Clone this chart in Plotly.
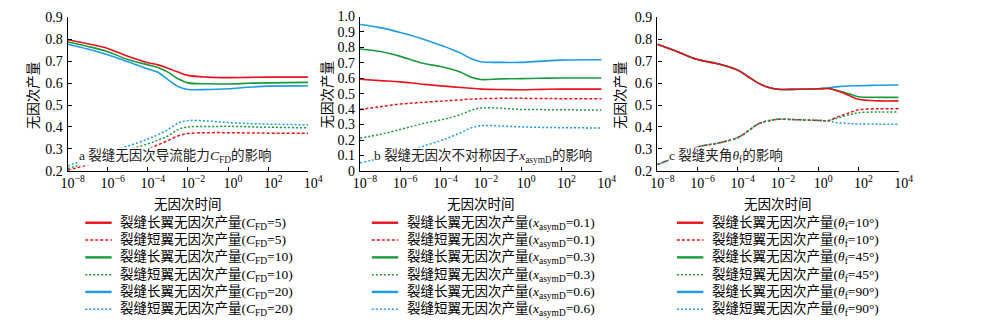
import plotly.graph_objects as go

# ---------------- data (log10 of dimensionless time) ----------------
X_A = [-8, -7, -6, -5, -4, -3.5, -3, -2.5, -2, -1, 0, 1, 2, 4]
A_long_5 = [0.797, 0.779, 0.758, 0.722, 0.693, 0.683, 0.668, 0.650, 0.635, 0.627, 0.625, 0.626, 0.627, 0.627]
A_long_10 = [0.787, 0.767, 0.743, 0.707, 0.683, 0.671, 0.650, 0.620, 0.601, 0.597, 0.596, 0.599, 0.601, 0.603]
A_long_20 = [0.777, 0.755, 0.729, 0.697, 0.664, 0.649, 0.616, 0.584, 0.571, 0.571, 0.574, 0.581, 0.586, 0.587]
A_short_5 = [0.203, 0.227, 0.251, 0.277, 0.301, 0.318, 0.338, 0.359, 0.370, 0.374, 0.374, 0.373, 0.372, 0.372]
A_short_10 = [0.210, 0.238, 0.265, 0.295, 0.323, 0.340, 0.359, 0.388, 0.400, 0.402, 0.403, 0.401, 0.399, 0.396]
A_short_20 = [0.222, 0.255, 0.287, 0.313, 0.345, 0.365, 0.388, 0.417, 0.429, 0.427, 0.420, 0.416, 0.413, 0.410]

X_B = [-8, -7, -6, -5, -4, -3.5, -3, -2.5, -2, -1, 0, 1, 2, 4]
B_long_01 = [0.594, 0.585, 0.577, 0.563, 0.551, 0.546, 0.540, 0.535, 0.530, 0.527, 0.526, 0.528, 0.530, 0.530]
B_long_03 = [0.790, 0.773, 0.742, 0.701, 0.676, 0.660, 0.639, 0.608, 0.592, 0.596, 0.598, 0.600, 0.602, 0.602]
B_long_06 = [0.948, 0.928, 0.897, 0.860, 0.814, 0.790, 0.763, 0.728, 0.707, 0.703, 0.703, 0.711, 0.718, 0.720]
B_short_01 = [0.398, 0.416, 0.433, 0.443, 0.452, 0.456, 0.460, 0.465, 0.468, 0.470, 0.470, 0.469, 0.468, 0.468]
B_short_03 = [0.212, 0.237, 0.268, 0.303, 0.330, 0.345, 0.365, 0.392, 0.408, 0.406, 0.398, 0.397, 0.396, 0.394]
B_short_06 = [0.052, 0.082, 0.118, 0.155, 0.196, 0.220, 0.247, 0.278, 0.293, 0.291, 0.285, 0.282, 0.280, 0.278]

X_C = [-8, -7, -6, -5, -4, -3.5, -3, -2.5, -2, -1, 0, 0.5, 1, 1.5, 2, 3, 4]
C_long_10 = [0.777, 0.743, 0.707, 0.688, 0.659, 0.630, 0.601, 0.581, 0.572, 0.572, 0.574, 0.575, 0.563, 0.545, 0.526, 0.519, 0.519]
C_long_45 = [0.777, 0.743, 0.707, 0.688, 0.659, 0.630, 0.601, 0.581, 0.572, 0.572, 0.574, 0.575, 0.565, 0.552, 0.538, 0.535, 0.535]
C_long_90 = [0.777, 0.743, 0.707, 0.688, 0.659, 0.630, 0.601, 0.581, 0.572, 0.572, 0.574, 0.578, 0.584, 0.587, 0.588, 0.590, 0.591]
C_short_10 = [0.229, 0.265, 0.309, 0.326, 0.352, 0.381, 0.413, 0.428, 0.435, 0.433, 0.430, 0.429, 0.447, 0.463, 0.478, 0.483, 0.483]
C_short_45 = [0.229, 0.265, 0.309, 0.326, 0.352, 0.381, 0.413, 0.428, 0.435, 0.433, 0.430, 0.429, 0.442, 0.455, 0.465, 0.468, 0.468]
C_short_90 = [0.229, 0.265, 0.309, 0.326, 0.352, 0.381, 0.413, 0.428, 0.435, 0.433, 0.430, 0.427, 0.419, 0.416, 0.414, 0.413, 0.413]

X_TICK_EXP = [-8, -6, -4, -2, 0, 2, 4]
X_TICK_TEXT = ["10<sup>\u22128</sup>", "10<sup>\u22126</sup>", "10<sup>\u22124</sup>", "10<sup>\u22122</sup>",
               "10<sup>0</sup>", "10<sup>2</sup>", "10<sup>4</sup>"]
Y_TICKS_AC = [0.2, 0.3, 0.4, 0.5, 0.6, 0.7, 0.8, 0.9]
Y_TICKS_B = [0, 0.1, 0.2, 0.3, 0.4, 0.5, 0.6, 0.7, 0.8, 0.9, 1.0]
Y_TICKTEXT_B = ["0", "0.1", "0.2", "0.3", "0.4", "0.5", "0.6", "0.7", "0.8", "0.9", "1.0"]

X_TITLE = "无因次时间"
Y_TITLE = "无因次产量"
PANEL_NOTES = ["a 裂缝无因次导流能力<i>C</i><sub>FD</sub>的影响",
               "b 裂缝无因次不对称因子<i>x</i><sub>asymD</sub>的影响",
               "c 裂缝夹角<i>θ</i><sub>f</sub>的影响"]

LEG_A = ["裂缝长翼无因次产量(<i>C</i><sub>FD</sub>=5)", "裂缝短翼无因次产量(<i>C</i><sub>FD</sub>=5)",
         "裂缝长翼无因次产量(<i>C</i><sub>FD</sub>=10)", "裂缝短翼无因次产量(<i>C</i><sub>FD</sub>=10)",
         "裂缝长翼无因次产量(<i>C</i><sub>FD</sub>=20)", "裂缝短翼无因次产量(<i>C</i><sub>FD</sub>=20)"]
LEG_B = ["裂缝长翼无因次产量(<i>x</i><sub>asymD</sub>=0.1)", "裂缝短翼无因次产量(<i>x</i><sub>asymD</sub>=0.1)",
         "裂缝长翼无因次产量(<i>x</i><sub>asymD</sub>=0.3)", "裂缝短翼无因次产量(<i>x</i><sub>asymD</sub>=0.3)",
         "裂缝长翼无因次产量(<i>x</i><sub>asymD</sub>=0.6)", "裂缝短翼无因次产量(<i>x</i><sub>asymD</sub>=0.6)"]
LEG_C = ["裂缝长翼无因次产量(<i>θ</i><sub>f</sub>=10°)", "裂缝短翼无因次产量(<i>θ</i><sub>f</sub>=10°)",
         "裂缝长翼无因次产量(<i>θ</i><sub>f</sub>=45°)", "裂缝短翼无因次产量(<i>θ</i><sub>f</sub>=45°)",
         "裂缝长翼无因次产量(<i>θ</i><sub>f</sub>=90°)", "裂缝短翼无因次产量(<i>θ</i><sub>f</sub>=90°)"]

# ---------------- styling ----------------
W, H = 1000, 330
RED, GREEN, BLUE = "#e8131c", "#1a9a3c", "#1e9be4"
FONT = "Liberation Serif, Noto Sans CJK SC, serif"


def px_x(p):
    return p / W


def px_y(p):
    return 1 - p / H


panels = [
    dict(x=X_A, long=[A_long_5, A_long_10, A_long_20], short=[A_short_5, A_short_10, A_short_20],
         dom=(62, 308), top=10.7, yr=[0.2, 0.9], yt=Y_TICKS_AC, ytt=None, leg=LEG_A,
         leg_line=(80, 107), leg_text=113, note_x=73, ytitle_x=27),
    dict(x=X_B, long=[B_long_01, B_long_03, B_long_06], short=[B_short_01, B_short_03, B_short_06],
         dom=(361, 608), top=10.0, yr=[0, 1.0], yt=Y_TICKS_B, ytt=Y_TICKTEXT_B, leg=LEG_B,
         leg_line=(373, 400), leg_text=407, note_x=374, ytitle_x=328),
    dict(x=X_C, long=[C_long_10, C_long_45, C_long_90], short=[C_short_10, C_short_45, C_short_90],
         dom=(665, 911.7), top=10.7, yr=[0.2, 0.9], yt=Y_TICKS_AC, ytt=None, leg=LEG_C,
         leg_line=(685, 712), leg_text=719, note_x=676, ytitle_x=628),
]
BOTTOM = 171.7
colors = [RED, GREEN, BLUE]
short_dash = ["3px,2px", "2px,2px", "2px,2px"]
LEG_Y = [226, 244.2, 262.3, 280.4, 298.5, 316.6]

fig = go.Figure()
shapes, annos = [], []
layout = {}
for k, p in enumerate(panels):
    sfx = "" if k == 0 else str(k + 1)
    xt = [10 ** v for v in p["x"]]
    order = [(2, "long"), (1, "long"), (0, "long"), (2, "short"), (0, "short"), (1, "short")]
    for ci, kind in order:
        ys = p[kind][ci]
        fig.add_trace(go.Scatter(
            x=xt, y=ys, mode="lines", xaxis="x" + sfx, yaxis="y" + sfx, showlegend=False,
            line=dict(color=colors[ci], width=1.6 if kind == "long" else 1.5,
                      dash="solid" if kind == "long" else short_dash[ci],
                      shape="spline", smoothing=1.0),
            hoverinfo="skip"))
    layout["xaxis" + sfx] = dict(
        type="log", range=[-8, 4], domain=[px_x(p["dom"][0]), px_x(p["dom"][1])],
        anchor="y" + sfx, showline=True, linecolor="black", linewidth=1.4, mirror=False,
        ticks="inside", ticklen=4, tickwidth=1, tickcolor="black",
        tickvals=[10 ** e for e in X_TICK_EXP], ticktext=X_TICK_TEXT,
        ticklabelshift=5, ticklabelstandoff=-1,
        tickfont=dict(family=FONT, size=14, color="black"),
        showgrid=False, zeroline=False, fixedrange=True)
    ytick = dict(tickvals=p["yt"])
    if p["ytt"] is not None:
        ytick["ticktext"] = p["ytt"]
    else:
        ytick["tickformat"] = ".1f"
    layout["yaxis" + sfx] = dict(
        range=p["yr"], domain=[px_y(BOTTOM), px_y(p["top"])], anchor="x" + sfx,
        showline=True, linecolor="black", linewidth=1.4, ticks="inside", ticklen=4,
        tickwidth=1, tickcolor="black", tickfont=dict(family=FONT, size=14, color="black"),
        ticklabelstandoff=1,
        showgrid=False, zeroline=False, fixedrange=True, **ytick)
    annos.append(dict(text=X_TITLE, xref="paper", yref="paper",
                      x=px_x((p["dom"][0] + p["dom"][1]) / 2), y=px_y(207),
                      xanchor="center", yanchor="middle", showarrow=False,
                      font=dict(family=FONT, size=13.5, color="black")))
    annos.append(dict(text=Y_TITLE, xref="paper", yref="paper", textangle=-90,
                      x=px_x(p["ytitle_x"]), y=px_y(92), xanchor="center", yanchor="middle",
                      showarrow=False, font=dict(family=FONT, size=13.5, color="black")))
    annos.append(dict(text=PANEL_NOTES[k], xref="paper", yref="paper",
                      x=px_x(p["note_x"]), y=px_y(156.5), xanchor="left", yanchor="middle",
                      showarrow=False, bgcolor="white", borderpad=0,
                      font=dict(family=FONT, size=13.5, color="#222")))
    leg_styles = [(RED, "solid"), (RED, short_dash[0]), (GREEN, "solid"), (GREEN, short_dash[1]),
                  (BLUE, "solid"), (BLUE, short_dash[2])]
    for i, (lab, (col, dsh)) in enumerate(zip(p["leg"], leg_styles)):
        shapes.append(dict(type="line", xref="paper", yref="paper",
                           x0=px_x(p["leg_line"][0]), x1=px_x(p["leg_line"][1]),
                           y0=px_y(LEG_Y[i]), y1=px_y(LEG_Y[i]),
                           line=dict(color=col, width=2.4 if dsh == "solid" else 1.5, dash=dsh)))
        annos.append(dict(text=lab, xref="paper", yref="paper", x=px_x(p["leg_text"]),
                          y=px_y(LEG_Y[i] + 0.5), xanchor="left", yanchor="middle", showarrow=False,
                          font=dict(family=FONT, size=13.5, color="black")))

fig.update_layout(
    width=W, height=H, margin=dict(l=0, r=0, t=0, b=0),
    paper_bgcolor="white", plot_bgcolor="white", showlegend=False,
    shapes=shapes, annotations=annos, **layout)

fig.write_html("out.html", config={"displayModeBar": False})
